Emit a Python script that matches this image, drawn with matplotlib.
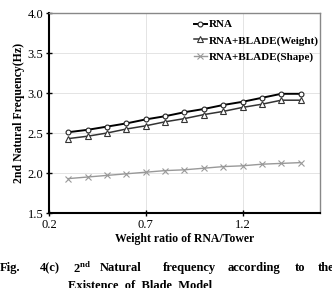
import numpy as np
import matplotlib.pyplot as plt

plt.rcParams['font.family'] = ['Liberation Serif', 'DejaVu Serif']

# data
ratio = [0.3, 0.4, 0.5, 0.6, 0.7, 0.8, 0.9, 1.0, 1.1, 1.2, 1.3, 1.4, 1.5]
f_rna = [2.51, 2.54, 2.58, 2.62, 2.67, 2.71, 2.76, 2.80, 2.85, 2.89, 2.94, 2.99, 2.99]
f_weight = [2.43, 2.46, 2.50, 2.55, 2.59, 2.64, 2.68, 2.73, 2.77, 2.82, 2.86, 2.91, 2.91]
f_shape = [1.93, 1.95, 1.97, 1.99, 2.01, 2.03, 2.04, 2.06, 2.08, 2.09, 2.11, 2.12, 2.13]

xticks = [0.2, 0.7, 1.2]
yticks = [1.5, 2.0, 2.5, 3.0, 3.5, 4.0]

fig = plt.figure(figsize=(3.32, 2.88), dpi=100)
ax = fig.add_axes([49/332, 1-213/288, 271/332, 200/288])

ax.plot(ratio, f_rna, color='black', lw=1.4, marker='o', ms=3.5,
        mfc='white', mec='#222222', mew=0.8, label='RNA')
ax.plot(ratio, f_weight, color='#333333', lw=1.1, marker='^', ms=4,
        mfc='white', mec='#333333', mew=0.8, label='RNA+BLADE(Weight)')
ax.plot(ratio, f_shape, color='#999999', lw=1.0, marker='x', ms=5,
        mec='#999999', mew=0.8, label='RNA+BLADE(Shape)')

ax.set_xlim(0.2, 1.6)
ax.set_ylim(1.5, 4.0)
ax.set_xticks(xticks)
ax.set_yticks(yticks)
ax.set_xticklabels(['0.2', '0.7', '1.2'], fontsize=9)
ax.set_yticklabels(['%.1f' % v for v in yticks], fontsize=9)
ax.tick_params(direction='inout', length=4, width=1, pad=2)
ax.grid(True, color='#e4e4e4', lw=0.7)
ax.set_axisbelow(True)

for s in ['left', 'bottom']:
    ax.spines[s].set_linewidth(1.5)
    ax.spines[s].set_color('black')
for s in ['top', 'right']:
    ax.spines[s].set_linewidth(1.0)
    ax.spines[s].set_color('#888888')

ax.set_xlabel('Weight ratio of RNA/Tower', fontsize=8.5, fontweight='bold', labelpad=2)
ax.set_ylabel('2nd Natural Frequency(Hz)', fontsize=8.5, fontweight='bold', labelpad=2)

leg = ax.legend(loc='upper right', frameon=False, prop={'size': 8, 'weight': 'bold'},
                handlelength=1.1, handletextpad=0.2, labelspacing=0.55,
                borderaxespad=0.2, bbox_to_anchor=(1.02, 1.0))

# caption under the chart (justified text in the original)
cap = [('Fig.', 0), ('4(c)', 40), ('2$^{\\mathregular{nd}}$', 73), ('Natural', 100),
       ('frequency', 163), ('according', 228), ('to', 295), ('the', 318)]
for word, px in cap:
    fig.text(px/332, 1-268/288, word, fontsize=9, fontweight='bold', va='center')
fig.text(68/332, 1-286/288, 'Existence  of  Blade  Model', fontsize=9,
         fontweight='bold', va='center')

fig.savefig('out.png', dpi=100)
